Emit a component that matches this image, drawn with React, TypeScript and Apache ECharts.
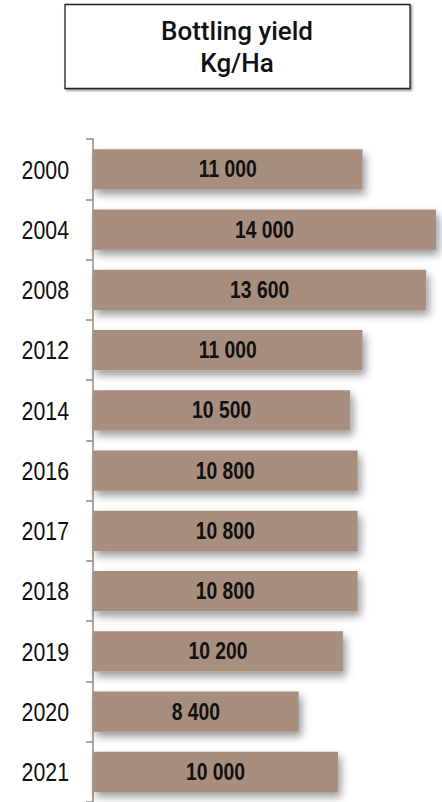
import React, { useEffect, useRef } from "react";
import * as echarts from "echarts";

const years = ["2000", "2004", "2008", "2012", "2014", "2016", "2017", "2018", "2019", "2020", "2021"];
const yields = [11000, 14000, 13600, 11000, 10500, 10800, 10800, 10800, 10200, 8400, 10000];
const titleLines = ["Bottling yield", "Kg/Ha"];

const fmt = (v: number) => String(v).replace(/\B(?=(\d{3})+(?!\d))/g, " ");
const FONT = "'Liberation Sans', Arial, sans-serif";

export default function App() {
  const ref = useRef<HTMLDivElement>(null);
  useEffect(() => {
    if (!ref.current) return;
    const chart = echarts.init(ref.current, null, { renderer: "svg" });
    chart.setOption({
      animation: false,
      backgroundColor: "#ffffff",
      grid: { left: 93, top: 139.2, width: 349, height: 666, containLabel: false },
      xAxis: { type: "value", min: 0, max: 14245, show: false },
      yAxis: {
        type: "category",
        data: years,
        inverse: true,
        axisLine: { show: true, lineStyle: { color: "#8c8c8c", width: 1.5 } },
        axisTick: { show: true, length: 7, lineStyle: { color: "#8c8c8c", width: 1.5 } },
        axisLabel: { show: false },
        splitLine: { show: false },
      },
      series: [
        {
          type: "bar",
          data: yields,
          barCategoryGap: "33%",
          itemStyle: {
            color: "#a88e7e",
            shadowColor: "rgba(0,0,0,0.4)",
            shadowBlur: 8,
            shadowOffsetX: 3,
            shadowOffsetY: 5,
          },
        },
        {
          type: "custom",
          clip: false,
          silent: true,
          data: yields.map((v, i) => [v, i]),
          encode: { x: 0, y: 1 },
          z: 5,
          renderItem: (params: any, api: any) => {
            const v = api.value(0);
            const idx = api.value(1);
            const c = api.coord([v / 2, idx]);
            const a = api.coord([0, idx]);
            return {
              type: "group",
              children: [
                {
                  type: "text",
                  x: c[0],
                  y: c[1],
                  scaleX: 0.84,
                  style: {
                    text: fmt(v),
                    textAlign: "center",
                    textVerticalAlign: "middle",
                    fontSize: 23,
                    fontWeight: "bold",
                    fontFamily: FONT,
                    fill: "#111",
                  },
                },
                {
                  type: "text",
                  x: a[0] - 24,
                  y: a[1],
                  scaleX: 0.82,
                  style: {
                    text: years[idx],
                    textAlign: "right",
                    textVerticalAlign: "middle",
                    fontSize: 26,
                    fontFamily: FONT,
                    fill: "#111",
                  },
                },
              ],
            };
          },
        },
      ],
      graphic: [
        {
          type: "rect",
          shape: { x: 65, y: 4.5, width: 345, height: 84 },
          style: {
            fill: "#fff",
            stroke: "#222",
            lineWidth: 1.3,
            shadowColor: "rgba(0,0,0,0.45)",
            shadowBlur: 2,
            shadowOffsetX: 1.5,
            shadowOffsetY: 1.5,
          },
        },
        {
          type: "text",
          x: 237,
          y: 31,
          style: {
            text: titleLines[0],
            textAlign: "center",
            textVerticalAlign: "middle",
            fontSize: 26,
            fontWeight: 500,
            fontFamily: "Roboto, sans-serif",
            fill: "#111",
          },
        },
        {
          type: "text",
          x: 237,
          y: 63,
          style: {
            text: titleLines[1],
            textAlign: "center",
            textVerticalAlign: "middle",
            fontSize: 26,
            fontWeight: 500,
            fontFamily: "Roboto, sans-serif",
            fill: "#111",
          },
        },
      ],
    });
    return () => chart.dispose();
  }, []);
  return (
    <div
      ref={ref}
      style={{ position: "absolute", left: 0, top: 0, width: 442, height: 802 }}
    />
  );
}
